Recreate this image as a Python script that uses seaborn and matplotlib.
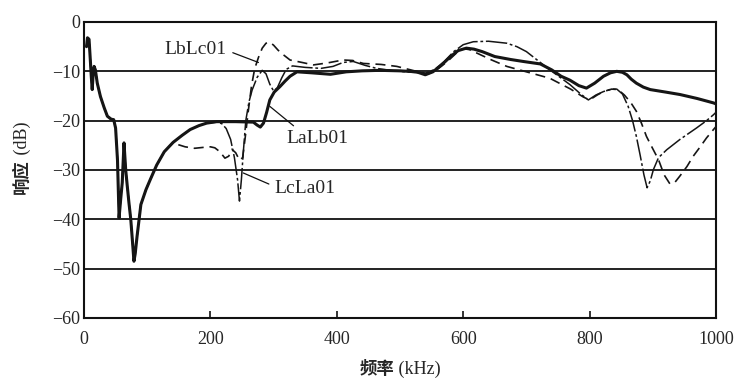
import numpy as np
import pandas as pd
import matplotlib
matplotlib.use("Agg")
import matplotlib.pyplot as plt
import seaborn as sns

# Shared low-frequency part (all three paths coincide below ~140 kHz)
low_freq = [4, 5.5, 8, 10, 11.5, 13, 14.5, 16, 18, 21, 26, 32, 37, 43, 47, 50, 53,
            55.5, 58, 60.5, 63.3, 66, 68.5, 71, 74, 77, 79, 81, 84, 90, 98, 105, 115,
            127, 141]
low_db = [-5, -3.2, -3.5, -7.7, -11, -13.7, -10.5, -9, -9.7, -12.4, -15.1, -17.4,
          -19.1, -19.7, -19.8, -21.5, -28, -39.7, -36, -32.6, -24.5, -30, -33.3,
          -36.5, -40, -45, -48.5, -47, -43.4, -37, -34, -31.9, -29, -26.3, -24.4]

# LaLb01 above 141 kHz
lalb_freq = [155, 168, 182, 194, 210, 240, 268, 274, 279, 284, 289, 294, 301, 310,
             318, 326, 337, 360, 390, 415, 440, 468, 500, 526, 540, 552, 565, 580,
             592, 605, 617, 630, 650, 675, 695, 722, 740, 755, 769, 783, 795, 808,
             822, 833, 843, 852, 859, 866, 874, 885, 896, 920, 943, 970, 996, 1000]
lalb_db = [-23, -21.8, -21.0, -20.5, -20.2, -20.2, -20.3, -20.9, -21.3, -20.5, -18.3,
           -15.8, -14.2, -13.1, -12, -11, -10.1, -10.3, -10.6, -10.1, -9.9, -9.8,
           -9.9, -10.1, -10.7, -10.1, -8.8, -7, -5.8, -5.3, -5.5, -6, -7, -7.6, -8,
           -8.5, -9.7, -11, -11.8, -12.9, -13.4, -12.4, -11, -10.3, -10, -10.2,
           -10.7, -11.6, -12.4, -13.2, -13.7, -14.2, -14.7, -15.5, -16.4, -16.6]

# LbLc01 above 141 kHz
lblc_freq = [150, 160, 175, 190, 200, 207, 215, 223, 229, 234, 240, 246, 251, 255,
             260, 265, 270, 276, 282, 288, 294, 300, 307, 315, 326, 345, 363, 385,
             410, 425, 442, 470, 495, 526, 545, 560, 575, 590, 600, 610, 625, 645,
             669, 700, 737, 770, 790, 800, 812, 822, 835, 845, 855, 865, 874, 882,
             890, 900, 909, 918, 927, 935, 943, 954, 964, 975, 985, 996, 1000]
lblc_db = [-24.9, -25.3, -25.6, -25.4, -25.3, -25.5, -26.3, -27.6, -27.2, -25.8,
           -26.5, -28, -27.5, -23.5, -18, -13, -9.5, -7.2, -5.3, -4.3, -4.1, -4.7,
           -5.7, -6.6, -7.7, -8.2, -8.7, -8.3, -7.7, -7.8, -8.4, -8.6, -9.0, -10.0,
           -10.5, -9.5, -8, -6.2, -5.4, -5.6, -6.5, -7.7, -9.0, -10.1, -11.4, -13.6,
           -15.2, -15.8, -14.8, -14.1, -13.6, -13.7, -14.8, -16.3, -18.1, -20.5,
           -23.2, -25.7, -27.9, -31, -32.8, -32.5, -31.2, -29.3, -27.2, -25.3,
           -23.5, -21.8, -21.2]

# LcLa01 above 141 kHz
lcla_freq = [155, 168, 182, 194, 210, 218, 225, 232, 238, 243, 246, 249, 252, 256,
             261, 266, 274, 282, 288, 294, 300, 306, 313, 320, 330, 350, 375, 394,
             410, 426, 445, 463, 490, 520, 540, 555, 570, 585, 600, 616, 640, 669,
             685, 700, 718, 737, 750, 769, 785, 798, 810, 822, 835, 843, 852, 861,
             868, 874, 880, 886, 891, 896, 901, 909, 922, 943, 969, 985, 996, 1000]
lcla_db = [-23, -21.8, -21.0, -20.5, -20.3, -20.6, -21.6, -23.8, -27.5, -32, -36.3,
           -32, -26.5, -20, -16.2, -13.8, -11.2, -9.8, -10.5, -12.6, -14, -13.3,
           -11.3, -9.6, -8.9, -9.2, -9.4, -9.0, -8.2, -8.0, -8.8, -9.4, -9.9, -10.2,
           -10.4, -9.6, -8, -6, -4.6, -4.0, -3.9, -4.3, -5, -6.0, -7.8, -9.7, -10.9,
           -12.7, -14.5, -15.8, -14.8, -14.1, -13.6, -13.6, -14.6, -17.1, -20,
           -23.2, -27, -31, -33.6, -32.2, -29.9, -27.5, -25.9, -23.8, -21.5, -20,
           -18.8, -18.3]

x_ticks = [0, 200, 400, 600, 800, 1000]
y_ticks = [0, -10, -20, -30, -40, -50, -60]

curves = {
    "LaLb01": (lalb_freq, lalb_db),
    "LbLc01": (lblc_freq, lblc_db),
    "LcLa01": (lcla_freq, lcla_db),
}
frames = []
for name, (f, d) in curves.items():
    frames.append(pd.DataFrame({"freq": low_freq + f, "db": low_db + d, "path": name}))
df = pd.concat(frames, ignore_index=True)

sns.set_theme(style="white")
plt.rcParams["font.family"] = ["Liberation Serif", "Noto Sans CJK SC"]
plt.rcParams["axes.unicode_minus"] = True

fig = plt.figure(figsize=(7.34, 3.83), dpi=100)
ax = fig.add_axes([84 / 734, 65 / 383, 632 / 734, 296 / 383])

# horizontal reference lines
for yv in y_ticks[1:-1]:
    ax.axhline(yv, color="#111111", lw=1.3, zorder=1)

styles = {
    "LcLa01": dict(lw=1.1, dashes=(14, 1.8, 1.8, 1.8)),
    "LbLc01": dict(lw=1.2, dashes=(6, 3.5)),
    "LaLb01": dict(lw=2.2, dashes=()),
}
for name in ["LcLa01", "LbLc01", "LaLb01"]:
    sub = df[df["path"] == name]
    st = styles[name]
    sns.lineplot(data=sub, x="freq", y="db", ax=ax, color="#151515",
                 lw=st["lw"], estimator=None, sort=False, legend=False, zorder=3)
    if st["dashes"]:
        ax.lines[-1].set_dashes(st["dashes"])

ax.set_xlim(0, 1000)
ax.set_ylim(-60, 0)
ax.set_xticks(x_ticks)
ax.set_xticklabels([str(v) for v in x_ticks])
ax.set_yticks(y_ticks)
ax.set_yticklabels([str(v).replace("-", "\u2212") for v in y_ticks])
ax.tick_params(axis="x", direction="in", length=5, width=1.2, pad=9,
               labelsize=13, color="#111111", top=False, bottom=True)
ax.tick_params(axis="y", length=0, pad=3, labelsize=13)
for s in ax.spines.values():
    s.set_color("#111111")
    s.set_linewidth(1.5)
ax.set_xlabel("")
ax.set_ylabel("")

# axis titles: bold Chinese word followed by the unit in regular serif
cjk_bold = dict(family=["Noto Sans CJK SC"], weight="bold", fontsize=12.5)
unit_reg = dict(family=["Liberation Serif"], fontsize=13)
renderer = fig.canvas.get_renderer()

xc, yc = 0.5 * (84 + 716) / 734, (383 - 369) / 383
tx1 = fig.text(0, yc, "频率", ha="left", va="center", **cjk_bold)
tx2 = fig.text(0, yc, " (kHz)", ha="left", va="center", **unit_reg)
w1 = tx1.get_window_extent(renderer).width / fig.bbox.width
w2 = tx2.get_window_extent(renderer).width / fig.bbox.width
x0 = xc - 0.5 * (w1 + w2)
tx1.set_x(x0)
tx2.set_x(x0 + w1)

ycen, xl = (383 - 158) / 383, 22 / 734
ty1 = fig.text(xl, 0, "响应", rotation=90, ha="center", va="bottom", **cjk_bold)
ty2 = fig.text(xl, 0, " (dB)", rotation=90, ha="center", va="bottom", **unit_reg)
h1 = ty1.get_window_extent(renderer).height / fig.bbox.height
h2 = ty2.get_window_extent(renderer).height / fig.bbox.height
y0 = ycen - 0.5 * (h1 + h2)
ty1.set_y(y0)
ty2.set_y(y0 + h1)

# curve labels with leader lines
lab_kw = dict(fontsize=14, va="center", ha="center", zorder=5)
ax.annotate("LbLc01", xy=(276, -8.2), xytext=(177, -5.6),
            arrowprops=dict(arrowstyle="-", lw=0.9, color="#111111",
                            relpos=(1.0, 0.45), shrinkA=2, shrinkB=0), **lab_kw)
ax.annotate("LaLb01", xy=(294, -17.1), xytext=(369, -23.6),
            arrowprops=dict(arrowstyle="-", lw=0.9, color="#111111",
                            relpos=(0.2, 1.0), shrinkA=1, shrinkB=0), **lab_kw)
ax.annotate("LcLa01", xy=(252, -30.6), xytext=(350, -33.7),
            arrowprops=dict(arrowstyle="-", lw=0.9, color="#111111",
                            relpos=(0.0, 0.6), shrinkA=2, shrinkB=0), **lab_kw)

fig.savefig("out.png", dpi=100, facecolor="white")
